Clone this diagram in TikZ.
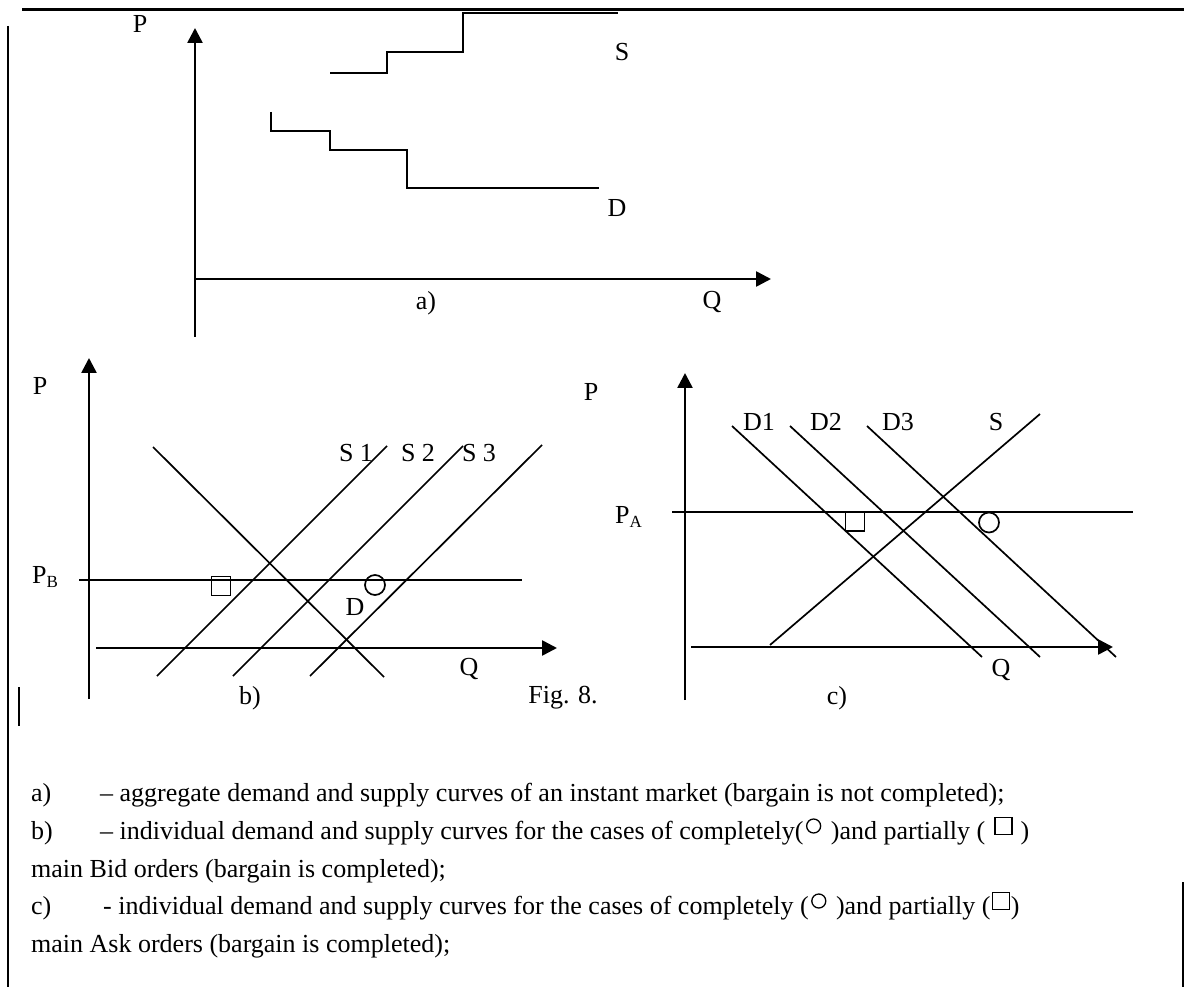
\documentclass[tikz,border=0pt]{standalone}
\usepackage{fontspec}
\setmainfont{Liberation Serif}
\usetikzlibrary{arrows.meta,calc}

\begin{document}
\begin{tikzpicture}[x=1pt,y=-1pt,
  lbl/.style={inner sep=0pt, font=\fontsize{26}{30}\selectfont},
  captxt/.style={lbl, anchor=base west},
  frameline/.style={line width=2.2pt},
  axisline/.style={line width=2.6pt, -{Triangle[length=15pt,width=15pt]}},
  stepline/.style={line width=2pt},
  slant/.style={line width=1.7pt},
  sqbox/.style={draw, line width=1.7pt, minimum size=19pt, inner sep=0pt},
  ring/.style={draw, circle, line width=1.7pt, minimum size=20pt, inner sep=0pt},
  smallring/.style={draw, circle, line width=1.3pt, minimum size=14pt, inner sep=0pt},
  smallbox/.style={draw, line width=1.3pt, minimum size=17pt, inner sep=0pt}
]
\useasboundingbox (0,0) rectangle (1184,992);

% page rules
\draw[frameline] (22,9.5) -- (1184,9.5);
\draw[frameline] (8,26) -- (8,987);
\draw[frameline] (19,687) -- (19,726);
\draw[frameline] (1183,882) -- (1183,987);

% ---------- a) aggregate curves ----------
\coordinate (aO) at (195,279);
\coordinate (aYb) at (195,337);
\coordinate (aYt) at (195,28);
\coordinate (aXr) at (771,279);
\draw[axisline] (aYb) -- (aYt);
\draw[axisline] (aO) -- (aXr);
\node[lbl] (aP) at (140,24) {P};
\node[lbl] (aQ) at (712,302) {Q};
\node[lbl] (aLab) at (426,303) {a)};
\draw[stepline] (330,73) -- (387,73) -- (387,52) -- (463,52) -- (463,13) -- (618,13);
\draw[stepline] (271,112) -- (271,131) -- (330,131) -- (330,150) -- (407,150) -- (407,188) -- (599,188);
\node[lbl] (aS) at (622,52) {S};
\node[lbl] (aD) at (617,208) {D};

% ---------- b) bid orders ----------
\coordinate (bYb) at (89,699);
\coordinate (bYt) at (89,358);
\coordinate (bXl) at (96,648);
\coordinate (bXr) at (557,648);
\draw[axisline] (bYb) -- (bYt);
\draw[axisline] (bXl) -- (bXr);
\node[lbl] (bP) at (40,386) {P};
\node[captxt] (bPB) at (32,583) {P\raisebox{-4pt}{\fontsize{17}{17}\selectfont B}};
\draw[slant] (79,580) -- (522,580);
\draw[slant] (153,447) -- (384,677);
\draw[slant] (157,676) -- (387,446);
\draw[slant] (233,676) -- (463,446);
\draw[slant] (310,676) -- (542,445);
\node[lbl] (bS1) at (356,453) {S 1};
\node[lbl] (bS2) at (418,453) {S 2};
\node[lbl] (bS3) at (479,453) {S 3};
\node[sqbox] (bSq) at (221,586) {};
\node[ring] (bO) at (375,585) {};
\node[lbl] (bD) at (355,607) {D};
\node[lbl] (bQ) at (469,669) {Q};
\node[lbl] (bLab) at (250,698) {b)};
\node[lbl] (fig) at (563,698) {Fig. 8.};

% ---------- c) ask orders ----------
\coordinate (cYb) at (685,700);
\coordinate (cYt) at (685,373);
\coordinate (cXl) at (691,647);
\coordinate (cXr) at (1113,647);
\draw[axisline] (cYb) -- (cYt);
\draw[axisline] (cXl) -- (cXr);
\node[lbl] (cP) at (591,392) {P};
\node[captxt] (cPA) at (615,523) {P\raisebox{-4pt}{\fontsize{17}{17}\selectfont A}};
\draw[slant] (672,512) -- (1133,512);
\draw[slant] (732,426) -- (982,657);
\draw[slant] (790,426) -- (1040,657);
\draw[slant] (867,426) -- (1116,657);
\draw[slant] (770,645) -- (1040,414);
\node[lbl] (cD1) at (759,422) {D1};
\node[lbl] (cD2) at (826,422) {D2};
\node[lbl] (cD3) at (898,422) {D3};
\node[lbl] (cS) at (996,422) {S};
\node[sqbox] (cSq) at (855,521.5) {};
\node[ring] (cO) at (989,522.5) {};
\node[lbl] (cQ) at (1001,670) {Q};
\node[lbl] (cLab) at (837,698) {c)};

% ---------- legend ----------
\node[captxt] (l1a) at (31,801) {a)};
\node[captxt] (l1b) at (100,801) {– aggregate demand and supply curves of an instant market (bargain is not completed);};

\node[captxt] (l2a) at (31,839) {b)};
\node[captxt] (l2b) at (100,839) {– individual demand and supply curves for the cases of completely(};
\node[smallring] (l2o) at ($(l2b.base east)+(10,-13)$) {};
\node[captxt] (l2c) at ($(l2b.base east)+(27,0)$) {)and partially (};
\node[smallbox] (l2s) at ($(l2c.base east)+(18,-13)$) {};
\node[captxt] (l2d) at ($(l2c.base east)+(35,0)$) {)};

\node[captxt] (l3) at (31,877) {main Bid orders (bargain is completed);};

\node[captxt] (l4a) at (31,914) {c)};
\node[captxt] (l4b) at (103,914) {- individual demand and supply curves for the cases of completely (};
\node[smallring] (l4o) at ($(l4b.base east)+(10,-13)$) {};
\node[captxt] (l4c) at ($(l4b.base east)+(27,0)$) {)and partially (};
\node[smallbox] (l4s) at ($(l4c.base east)+(10,-13)$) {};
\node[captxt] (l4d) at ($(l4c.base east)+(20,0)$) {)};

\node[captxt] (l5) at (31,952) {main Ask orders (bargain is completed);};
\end{tikzpicture}
\end{document}
